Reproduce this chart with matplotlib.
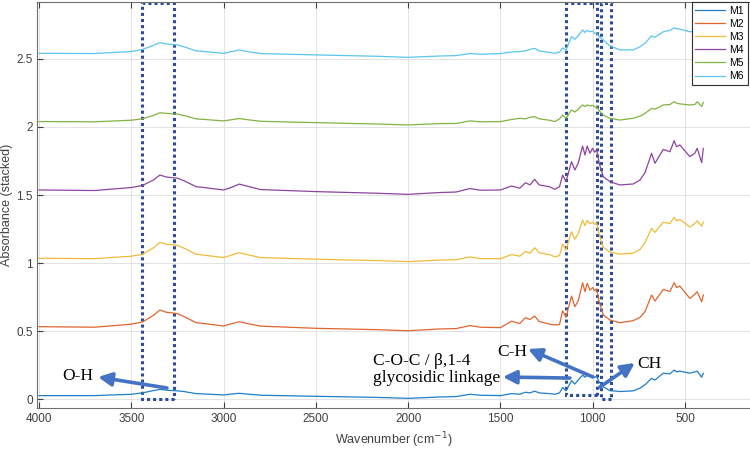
import matplotlib
matplotlib.use("Agg")
import matplotlib.pyplot as plt
from matplotlib.patches import Rectangle

plt.rcParams['font.family'] = ['Liberation Sans', 'DejaVu Sans']

# wavenumber grid (cm-1)
wn = [4000, 3700, 3500, 3440, 3380, 3345, 3310, 3250, 3215, 3150, 3000, 2965, 2915,
      2860, 2800, 2500, 2170, 2000, 1830, 1740, 1665, 1610, 1500, 1440, 1395, 1365,
      1340, 1315, 1290, 1235, 1205, 1180, 1163, 1145, 1115, 1097, 1079, 1055, 1042,
      1030, 1015, 1001, 990, 979, 965, 943, 907, 853, 781, 744, 717, 681, 663, 618,
      582, 559, 546, 528, 474, 447, 434, 410, 401]

# stacked absorbance of each sample
m1 = [0.025, 0.025, 0.035, 0.045, 0.062, 0.071, 0.065, 0.060, 0.055, 0.040, 0.030, 0.036, 0.042,
      0.035, 0.028, 0.020, 0.012, 0.005, 0.015, 0.018, 0.035, 0.028, 0.025, 0.040, 0.035, 0.050,
      0.045, 0.058, 0.045, 0.040, 0.035, 0.045, 0.085, 0.060, 0.135, 0.110, 0.140, 0.176, 0.160,
      0.175, 0.168, 0.172, 0.160, 0.165, 0.125, 0.090, 0.062, 0.055, 0.060, 0.080, 0.105, 0.152,
      0.140, 0.190, 0.185, 0.213, 0.200, 0.205, 0.190, 0.200, 0.205, 0.160, 0.189]
m2 = [0.532, 0.528, 0.550, 0.566, 0.615, 0.654, 0.638, 0.628, 0.607, 0.562, 0.537, 0.551, 0.568,
      0.552, 0.536, 0.520, 0.510, 0.502, 0.515, 0.518, 0.540, 0.528, 0.525, 0.572, 0.555, 0.598,
      0.585, 0.610, 0.570, 0.551, 0.544, 0.548, 0.649, 0.600, 0.757, 0.679, 0.720, 0.855, 0.789,
      0.851, 0.800, 0.820, 0.795, 0.810, 0.715, 0.618, 0.581, 0.561, 0.576, 0.600, 0.642, 0.765,
      0.720, 0.806, 0.790, 0.855, 0.820, 0.830, 0.740, 0.770, 0.789, 0.715, 0.765]
m3 = [1.035, 1.032, 1.050, 1.064, 1.112, 1.152, 1.138, 1.130, 1.110, 1.065, 1.040, 1.055, 1.076,
      1.058, 1.040, 1.028, 1.018, 1.010, 1.022, 1.024, 1.045, 1.032, 1.032, 1.062, 1.050, 1.085,
      1.072, 1.112, 1.075, 1.062, 1.045, 1.055, 1.140, 1.095, 1.230, 1.175, 1.215, 1.315, 1.275,
      1.312, 1.290, 1.300, 1.285, 1.295, 1.210, 1.115, 1.080, 1.065, 1.072, 1.100, 1.150, 1.255,
      1.225, 1.300, 1.290, 1.336, 1.310, 1.320, 1.265, 1.290, 1.310, 1.270, 1.300]
m4 = [1.537, 1.533, 1.555, 1.570, 1.610, 1.647, 1.632, 1.624, 1.605, 1.562, 1.537, 1.552, 1.580,
      1.561, 1.540, 1.525, 1.513, 1.505, 1.518, 1.522, 1.548, 1.535, 1.537, 1.566, 1.550, 1.590,
      1.575, 1.615, 1.574, 1.561, 1.542, 1.561, 1.647, 1.598, 1.745, 1.684, 1.733, 1.860, 1.794,
      1.860, 1.807, 1.843, 1.815, 1.831, 1.733, 1.635, 1.598, 1.574, 1.581, 1.610, 1.664, 1.807,
      1.733, 1.835, 1.818, 1.899, 1.855, 1.868, 1.782, 1.807, 1.843, 1.738, 1.843]
m5 = [2.040, 2.038, 2.050, 2.060, 2.085, 2.105, 2.100, 2.095, 2.085, 2.060, 2.045, 2.052, 2.062,
      2.052, 2.042, 2.032, 2.022, 2.015, 2.025, 2.026, 2.045, 2.038, 2.040, 2.055, 2.064, 2.060,
      2.072, 2.076, 2.060, 2.050, 2.040, 2.060, 2.088, 2.064, 2.125, 2.110, 2.130, 2.162, 2.150,
      2.162, 2.155, 2.160, 2.148, 2.150, 2.120, 2.088, 2.064, 2.051, 2.064, 2.080, 2.100, 2.137,
      2.130, 2.162, 2.165, 2.186, 2.175, 2.170, 2.162, 2.165, 2.186, 2.150, 2.180]
m6 = [2.542, 2.540, 2.555, 2.570, 2.600, 2.620, 2.610, 2.603, 2.590, 2.560, 2.542, 2.552, 2.566,
      2.552, 2.540, 2.530, 2.520, 2.512, 2.522, 2.525, 2.540, 2.535, 2.540, 2.552, 2.554, 2.560,
      2.570, 2.578, 2.560, 2.548, 2.542, 2.550, 2.580, 2.566, 2.664, 2.645, 2.670, 2.713, 2.695,
      2.710, 2.700, 2.705, 2.689, 2.690, 2.665, 2.640, 2.595, 2.568, 2.566, 2.590, 2.615, 2.670,
      2.660, 2.700, 2.710, 2.730, 2.722, 2.720, 2.700, 2.705, 2.715, 2.700, 2.715]

labels = ['M1', 'M2', 'M3', 'M4', 'M5', 'M6']
series = [m1, m2, m3, m4, m5, m6]
colors = ['#1f7fc8', '#e0652e', '#f0bb3a', '#8e44a0', '#82b441', '#5cc4f0']

xticks = [4000, 3500, 3000, 2500, 2000, 1500, 1000, 500]
yticks = [0, 0.5, 1, 1.5, 2, 2.5]
ytick_labels = ['0', '0.5', '1', '1.5', '2', '2.5']

fig = plt.figure(figsize=(7.5, 4.49), dpi=100)
ax = fig.add_axes([37 / 750, 41 / 449, 713 / 750, 406 / 449])

for y, c, lab in zip(series, colors, labels):
    ax.plot(wn, y, color=c, lw=0.9, label=lab)

ax.set_xlim(4011, 148)
ax.set_ylim(-0.066, 2.919)
ax.set_xticks(xticks)
ax.set_xticklabels([str(t) for t in xticks])
ax.set_yticks(yticks)
ax.set_yticklabels(ytick_labels)
ax.tick_params(direction='in', length=4, top=True, right=False,
               labelsize=8.5, colors='#404040')
ax.tick_params(axis='y', pad=3)
ax.grid(True, color='#dedede', lw=0.6)
ax.set_axisbelow(True)
for s in ['left', 'bottom', 'top']:
    ax.spines[s].set_color('#707070')
ax.spines['right'].set_visible(False)

ax.set_xlabel('Wavenumber (cm$^{-1}$)', fontsize=9, color='#404040', labelpad=4)
ax.set_ylabel('Absorbance (stacked)', fontsize=9, color='#404040')
ax.yaxis.set_label_coords(-0.034, 0.5)

# highlighted band regions
box_kw = dict(fill=False, edgecolor='#2B4C9B', lw=2.2, linestyle=(0, (1, 1)))
ax.add_patch(Rectangle((3269, -0.003), 3444 - 3269, 2.915 + 0.003, **box_kw))
ax.add_patch(Rectangle((977, 0.03), 1145 - 977, 2.915 - 0.03, **box_kw))
ax.add_patch(Rectangle((902, -0.003), 956 - 902, 2.915 + 0.003, **box_kw))

# band assignments
arrow_kw = dict(arrowstyle='-|>', color='#4472C4', lw=2.6, mutation_scale=20,
                shrinkA=0, shrinkB=0)
serif = ['Liberation Serif', 'DejaVu Serif']
fs = 12.5
ax.annotate('', xy=(3680, 0.162), xytext=(3307, 0.081), arrowprops=arrow_kw)
ax.text(3875, 0.169, 'O-H', family=serif, fontsize=fs, va='center', ha='left')

ax.annotate('', xy=(1487, 0.162), xytext=(1124, 0.154), arrowprops=arrow_kw)
ax.text(2191, 0.217, 'C-O-C / \u03b2,1-4\nglycosidic linkage', family=serif,
        fontsize=fs, va='center', ha='left', linespacing=1.05)

ax.annotate('', xy=(1351, 0.368), xytext=(999, 0.162), arrowprops=arrow_kw)
ax.text(1519, 0.346, 'C-H', family=serif, fontsize=fs, va='center', ha='left')

ax.annotate('', xy=(772, 0.265), xytext=(961, 0.088), arrowprops=arrow_kw)
ax.text(761, 0.257, 'CH', family=serif, fontsize=fs, va='center', ha='left')

leg = ax.legend(loc='upper right', bbox_to_anchor=(0.997, 1.0), borderaxespad=0,
                fontsize=7.5, handlelength=2.9, labelspacing=0.3, fancybox=False,
                framealpha=1, edgecolor='#303030', borderpad=0.35, handletextpad=0.4)
leg.get_frame().set_linewidth(0.8)

fig.savefig('out.png', dpi=100)
